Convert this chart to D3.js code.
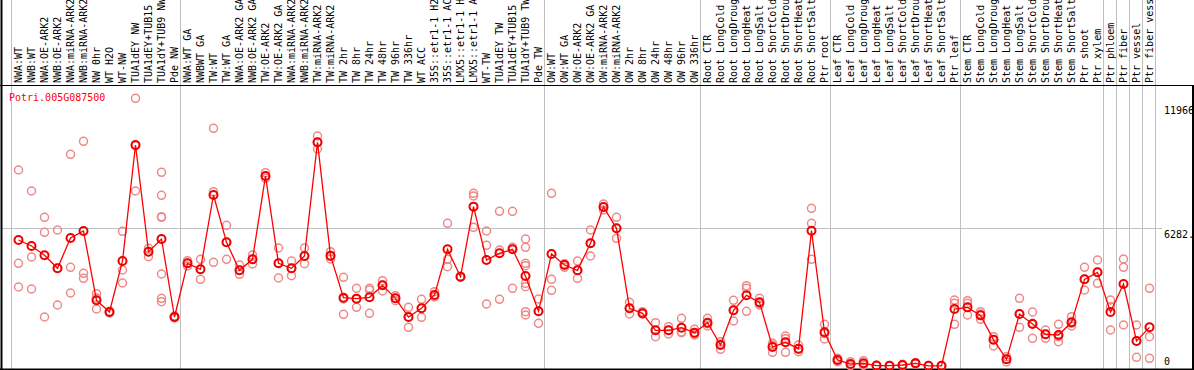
<!DOCTYPE html>
<html><head><meta charset="utf-8">
<script src="https://cdn.jsdelivr.net/npm/d3@7"></script>
<style>
html,body{margin:0;padding:0;background:#fff;}
svg{display:block;}
text{font-family:"DejaVu Sans Mono",monospace;font-size:10px;}
</style></head>
<body>
<script>
const title = "Potri.005G087500";
const categories = ["NWA:WT","NWB:WT","NWA:OE-ARK2","NWB:OE-ARK2","NWA:miRNA-ARK2","NWB:miRNA-ARK2","NW 0hr","WT H2O","WT-NW","TUA1dEY NW","TUA1dEY+TUB15","TUA1dY+TUB9 NW","Pde NW",
"NWA:WT GA","NWBWT GA","TW:WT","TW:WT GA","NWA:OE-ARK2 GA","NWB:OE-ARK2 GA","TW:OE-ARK2","TW:OE-ARK2 GA","NWA:miRNA-ARK2","NWB:miRNA-ARK2","TW:miRNA-ARK2","TW:miRNA-ARK2","TW 2hr","TW 8hr","TW 24hr","TW 48hr","TW 96hr","TW 336hr","WT ACC","35S::etr1-1 H2O","35S::etr1-1 ACC","LMX5::etr1-1 H2O","LMX5::etr1-1 ACC","WT-TW","TUA1dEY TW","TUA1dEY+TUB15","TUA1dY+TUB9 TW","Pde TW",
"OW:WT","OW:WT GA","OW:OE-ARK2","OW:OE-ARK2 GA","OW:miRNA-ARK2","OW:miRNA-ARK2","OW 2hr","OW 8hr","OW 24hr","OW 48hr","OW 96hr","OW 336hr",
"Root CTR","Root LongCold","Root LongDrought","Root LongHeat","Root LongSalt","Root ShortCold","Root ShortDrought","Root ShortHeat","Root ShortSalt","Ptr root",
"Leaf CTR","Leaf LongCold","Leaf LongDrought","Leaf LongHeat","Leaf LongSalt","Leaf ShortCold","Leaf ShortDrought","Leaf ShortHeat","Leaf ShortSalt","Ptr leaf",
"Stem CTR","Stem LongCold","Stem LongDrought","Stem LongHeat","Stem LongSalt","Stem ShortCold","Stem ShortDrought","Stem ShortHeat","Stem ShortSalt","Ptr shoot","Ptr xylem",
"Ptr phloem","Ptr fiber","Ptr vessel","Ptr fiber vessel"];

const means = [5748,5475,5049,4456,5840,6159,2996,2464,4790,10082,5216,5794,2235,
4684,4410,7801,5642,4364,4866,8668,4684,4456,5018,10204,5034,3117,3072,3133,3680,3087,2235,2631,3239,5322,4075,7269,4836,5140,5322,4106,2494,
5110,4608,4364,5596,7254,6281,2631,2403,1627,1627,1749,1521,
1977,958,2540,3224,2905,867,1080,791,6174,1536,
274,91,122,20,15,46,122,10,10,2600,
2676,2311,1201,304,2372,1916,1445,1414,1992,3954,4273,
2464,3741,1141,1764];

const replicates = [
[8942,4684,3604],[7984,4973,3513],[6782,6098,2235],[6204,4456,2783],[9656,4501,3330],[10250,4228,3999],[3300,3100,2600],[2500,2464,2420],[6144,4380,3787],[12211,10052,7984],[5368,5216,4988],[8836,7786,6813,6782,4197,3087,2935],[2280,2235,2190],
[4806,4684,4562],[4866,3954,4410],[10843,7954,4729],[6417,4866,5642],[4608,4182,4364],[5064,4653,4866],[8820,8562,8668],[5383,4015,4684],[4790,4121,4456],[5383,4669,5018],[10493,9900,10204],[5216,4882,5004],[4045,3057,2357],[3543,2676,3072],[3543,3467,2403],[3893,3422,3680],[3209,2981,3087],[2676,1764,2235],[3041,2220,2631],[3391,3163,3163],[6509,4866,4532],[4100,4075,4050],[7877,7756,6326],[6159,5505,2828],[7056,5292,3041],[7056,5414,3543],[5794,5414,4684,4577,3771,3619,2479,2327],[3057,1947,2494],
[7877,3954,3452],[4653,4501,4670],[4790,3999,4364],[6204,5018,5596],[7391,7117,7254],[6782,5824,6281],[2905,2372,2631],[2479,2372,2372],[1977,1338,1627],[1794,1460,1627],[2175,1521,1551],[1673,1414,1476],
[2175,1825,1931],[1110,761,1003],[2996,2053,2540],[3665,3543,2494],[3087,2783,2845],[1034,623,944],[1369,623,1248],[958,654,761],[7193,6509,4866],[1901,1232,1475],
[350,198,274],[198,60,15],[243,90,30],[30,20,10],[25,15,5],[80,40,20],[160,110,95],[20,10,0],[20,10,0],[3011,2859,1901],
[2981,2859,2327],[2479,2372,2129],[1338,913,1201],[426,304,183],[3087,1764,2372],[2464,1263,1947],[1643,1263,1445],[1901,1110,1338],[2251,1825,1947],[4501,3467,3954],[4836,3771,4273],
[3011,2707,1643],[4882,4501,1871],[1871,396,1141],[3543,1338,350]];

const yTicks = [11966, 6282, 0];
const yTickLabels = ["11966", "6282.", "0"];
const groupBreaks = [0, 13, 41, 53, 63, 73, 84, 85, 86, 87, 88];

const W = 1194, H = 370;
const headerBottom = 85, plotBottom = 369;
const bandStart = 11.5, bandW = 13;

const svg = d3.select("body").append("svg").attr("width", W).attr("height", H);

const x = d3.scaleBand().domain(d3.range(categories.length))
  .range([bandStart, bandStart + bandW * categories.length]).padding(0);
const y = d3.scaleLinear().domain([0, 11966]).range([366, 103.7]);
const cx = i => x(i) + x.bandwidth() / 2 + 0.5;

// gray grid lines
svg.append("g").selectAll("line").data(groupBreaks).join("line")
  .attr("x1", k => bandStart + bandW * k).attr("x2", k => bandStart + bandW * k)
  .attr("y1", 0).attr("y2", plotBottom)
  .attr("stroke", "#c0c0c0").attr("stroke-width", 1);
svg.append("line").attr("x1", 1).attr("x2", 1162)
  .attr("y1", Math.round(y(6282)) + 0.5).attr("y2", Math.round(y(6282)) + 0.5)
  .attr("stroke", "#c0c0c0").attr("stroke-width", 1);

// frame
svg.append("line").attr("x1", 0).attr("x2", W).attr("y1", headerBottom + 0.5).attr("y2", headerBottom + 0.5).attr("stroke", "#000");
svg.append("line").attr("x1", 0).attr("x2", W).attr("y1", plotBottom + 0.5).attr("y2", plotBottom + 0.5).attr("stroke", "#000").attr("stroke-width", 2);
svg.append("line").attr("x1", 1.5).attr("x2", 1.5).attr("y1", 0).attr("y2", H).attr("stroke", "#000").attr("stroke-width", 2);
svg.append("line").attr("x1", 1193).attr("x2", 1193).attr("y1", headerBottom).attr("y2", H).attr("stroke", "#000").attr("stroke-width", 2);

// category labels
svg.append("g").selectAll("text").data(categories).join("text")
  .attr("transform", (d, i) => `translate(${cx(i) + 3.5},83) rotate(-90)`)
  .attr("fill", "#000").text(d => d);

// title
svg.append("text").attr("x", 9).attr("y", 101).attr("fill", "#ff0000").text(title);

// right axis
const axis = d3.axisRight(y).tickValues(yTicks).tickSize(0)
  .tickFormat((d, i) => yTickLabels[i]);
const ag = svg.append("g").attr("transform", "translate(1164,0)").call(axis);
ag.select(".domain").remove();
ag.selectAll("text").attr("x", 0).attr("fill", "#000")
  .style("font-family", '"DejaVu Sans Mono",monospace').style("font-size", "10px")
  .attr("dy", d => d === 0 ? "-0.15em" : "0.95em");

// replicates
const repData = [];
replicates.forEach((arr, i) => arr.forEach(v => repData.push({i, v})));
svg.append("g").selectAll("circle").data(repData).join("circle")
  .attr("cx", d => cx(d.i)).attr("cy", d => y(d.v)).attr("r", 4)
  .attr("fill", "none").attr("stroke", "#f08888").attr("stroke-width", 1.5);

// mean line
const line = d3.line().x((d, i) => cx(i)).y(d => y(d));
svg.append("path").datum(means).attr("d", line)
  .attr("fill", "none").attr("stroke", "#ff0000").attr("stroke-width", 1.3);
svg.append("g").selectAll("circle").data(means).join("circle")
  .attr("cx", (d, i) => cx(i)).attr("cy", d => y(d)).attr("r", 4)
  .attr("fill", "none").attr("stroke", "#ee0000").attr("stroke-width", 2);
</script>
</body></html>
